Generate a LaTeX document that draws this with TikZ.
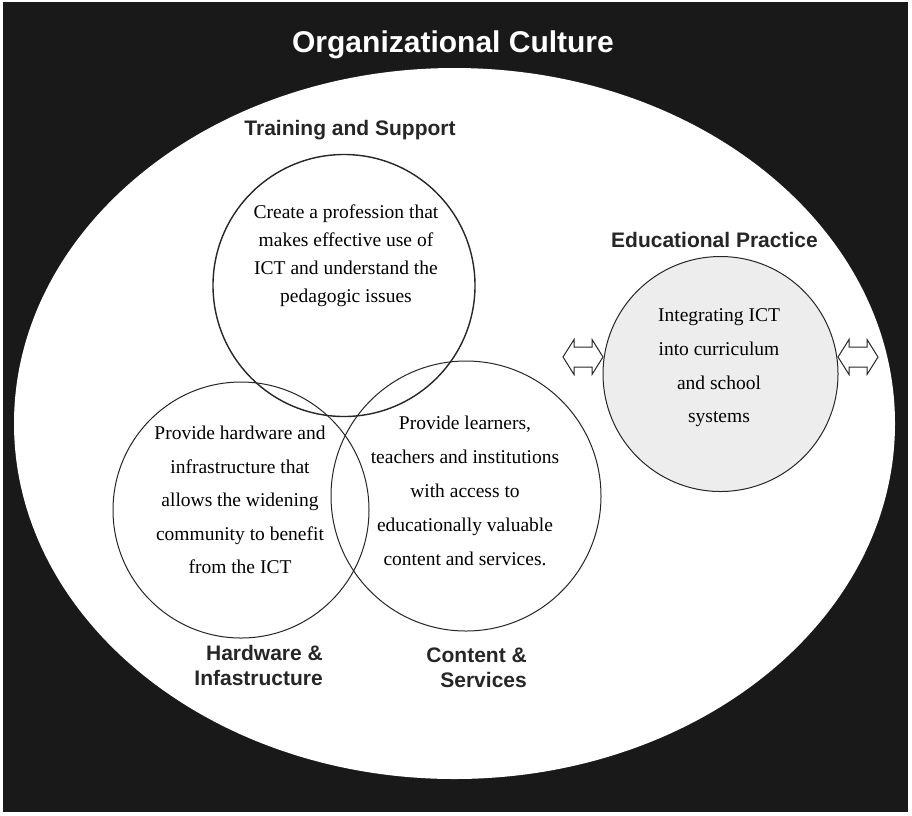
\documentclass[tikz,border=0pt]{standalone}
\usepackage{fontspec}
\setmainfont{Liberation Serif}
\newfontfamily\labelfont{Liberation Sans}
\usetikzlibrary{positioning}

\tikzset{
  ring/.style={circle, draw=black!85, line width=1pt, inner sep=0pt},
  ringtext/.style={align=center, font=\fontsize{19.5}{#1}\selectfont},
  tag/.style={font=\labelfont\bfseries\fontsize{21}{25}\selectfont, text=black!85},
  twoway/.style={draw=black!85, line width=1pt, fill=white}
}

% outlined double arrow around a named coordinate
\newcommand{\twowayarrow}[1]{%
  \draw[twoway] (#1) ++(-20,0) -- ++(11,-17.5) -- ++(0,7.5) -- ++(18,0) -- ++(0,-7.5)
    -- ++(11,17.5) -- ++(-11,17.5) -- ++(0,-7.5) -- ++(-18,0) -- ++(0,7.5) -- cycle;}

\begin{document}
\begin{tikzpicture}[x=1pt, y=-1pt]
\useasboundingbox (0,0) rectangle (912,815);
\fill[white] (0,0) rectangle (912,815);
\fill[black!90] (3,2) rectangle (908,812);

% the culture
\fill[white] (454.5,423.5) ellipse (440.5 and 355.5);
\node (culture) [font=\labelfont\bfseries\fontsize{30}{36}\selectfont, text=white] at (453,45) {Organizational Culture};

% three overlapping circles
\node (training) [ring, line width=1.4pt, minimum size=262pt] at (344,285.5) {};
\node (hardware) [ring, minimum size=256pt] at (241,510) {};
\node (content) [ring, minimum size=270pt] at (466,496) {};

\node (trainingtxt) [ringtext=28] at (346,256) {Create a profession that\\makes effective use of\\ICT and understand the\\pedagogic issues};
\node (hardwaretxt) [ringtext=33.5] at (240,500) {Provide hardware and\\infrastructure that\\allows the widening\\community to benefit\\from the ICT};
\node (contenttxt) [ringtext=34] at (465,491) {Provide learners,\\teachers and institutions\\with access to\\educationally valuable\\content and services.};

\node (traininglbl) [tag] at (350,130) {Training and Support};
\node (hardwarelbl) [tag, anchor=east, align=right, inner sep=0pt] at (323,665) {Hardware \&\\Infastructure};
\node (contentlbl) [tag, anchor=east, align=right, inner sep=0pt] at (527,668) {Content \&\\Services};

% educational practice
\node (practice) [ring, fill=black!7, minimum size=235pt] at (720.5,374) {};
\node (practicetxt) [ringtext=33.7] at (719,368) {Integrating ICT\\into curriculum\\and school\\systems};
\node (practicelbl) [tag] at (714.5,240) {Educational Practice};

\coordinate (leftarrow) at (583,357);
\coordinate (rightarrow) at (858,357);
\twowayarrow{leftarrow}
\twowayarrow{rightarrow}
\end{tikzpicture}
\end{document}
